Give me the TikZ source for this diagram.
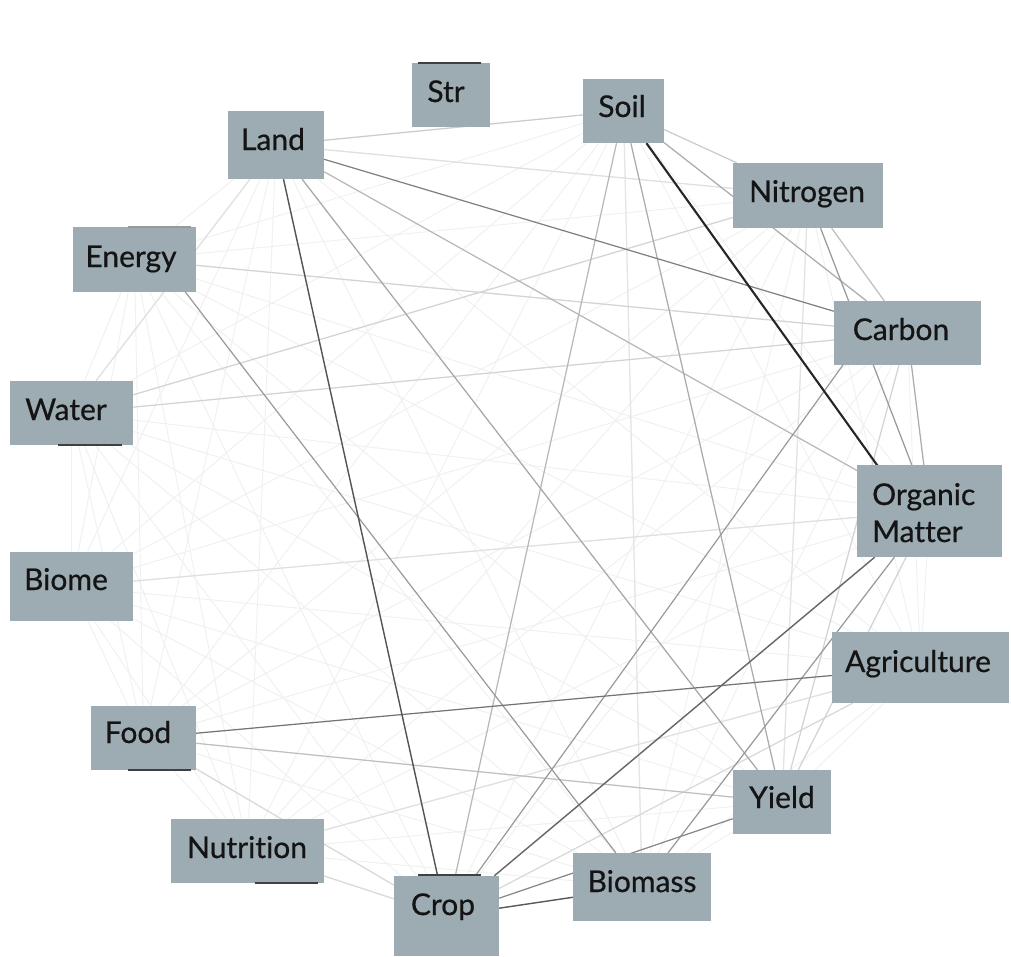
\documentclass[tikz,border=0pt]{standalone}
\usepackage{fontspec}
\setmainfont{Lato}[Ligatures=NoCommon]
\newfontfamily\lblfont{Lato}[Ligatures=NoCommon, FakeBold=0.6]
\usetikzlibrary{backgrounds}
\pgfdeclarelayer{bottom}
\pgfsetlayers{bottom,background,main}
\definecolor{boxc}{RGB}{157,172,179}
\tikzset{
  box/.style={rectangle, fill=boxc, draw=none, inner sep=0pt},
  lbl/.style={font=\lblfont\fontsize{30}{36}\selectfont, text=black!92, inner sep=0pt, anchor=base},
  ed/.style={draw=black!#1, line width=1.2pt},
  faint/.style={draw=black!6, line width=0.9pt},
  shadowbar/.style={line width=1.8pt, draw=black!75},
}
\newcommand\mkbox[5]{\node[box, minimum width={(#4-#2)*1pt}, minimum height={(#5-#3)*1pt}] (#1) at ({(#2+#4)/2},{(#3+#5)/2}) {};}
\begin{document}
\begin{tikzpicture}[x=1pt,y=-1pt]
\begin{pgfonlayer}{bottom}
\fill[white] (0,0) rectangle (1011,956);
\end{pgfonlayer}
\useasboundingbox (0,0) rectangle (1011,956);
% boxes
\mkbox{str}{412}{63}{490}{127}
\mkbox{land}{228}{111}{324}{179}
\mkbox{energy}{73}{227}{196}{292}
\mkbox{water}{10}{381}{133}{445}
\mkbox{soil}{583}{79}{664}{143}
\mkbox{nitrogen}{733}{163}{883}{228}
\mkbox{carbon}{834}{301}{981}{365}
\mkbox{om}{857}{465}{1002}{557}
\mkbox{agri}{832}{632}{1009}{703}
\mkbox{yield}{733}{770}{831}{834}
\mkbox{biomass}{573}{853}{711}{921}
\mkbox{biome}{10}{552}{133}{621}
\mkbox{food}{91}{706}{196}{770}
\mkbox{nutrition}{171}{819}{324}{883}
\mkbox{crop}{394}{876}{499}{956}
% labels
\node[lbl] (str-t) at (446,102) {Str};
\node[lbl] (land-t) at (273,150) {Land};
\node[lbl] (energy-t) at (131,267) {Energy};
\node[lbl] (water-t) at (66,420) {Water};
\node[lbl] (soil-t) at (622,117) {Soil};
\node[lbl] (nitrogen-t) at (807,202) {Nitrogen};
\node[lbl] (carbon-t) at (901,340) {Carbon};
\node[lbl, anchor=base west] (om-t1) at (872,505) {Organic};
\node[lbl, anchor=base west] (om-t2) at (872,542) {Matter};
\node[lbl] (agri-t) at (918,672) {Agriculture};
\node[lbl] (yield-t) at (782,808) {Yield};
\node[lbl] (biomass-t) at (642,892) {Biomass};
\node[lbl] (biome-t) at (66,590) {Biome};
\node[lbl] (food-t) at (138,743) {Food};
\node[lbl] (nutrition-t) at (247,858) {Nutrition};
\node[lbl] (crop-t) at (443,915) {Crop};
% dark strips along some box edges
\draw[shadowbar] (418,63) -- (481,63);
\draw[shadowbar] (418,875) -- (481,875);
\draw[shadowbar] (58,445) -- (122,445);
\draw[shadowbar] (128,770) -- (191,770);
\draw[shadowbar] (255,883) -- (318,883);
\draw[shadowbar, draw=black!40] (128,227) -- (191,227);
% anchor points where some connectors meet
\coordinate (carbon-a) at (866,333);
\coordinate (om-a) at (910,511);
\coordinate (energy-a) at (160,259);
\begin{pgfonlayer}{background}
  % faint web
  \foreach \a [count=\i] in {land,soil,nitrogen,energy,carbon,water,om,biome,agri,food,yield,nutrition,biomass,crop}{
    \foreach \b [count=\j] in {land,soil,nitrogen,energy,carbon,water,om,biome,agri,food,yield,nutrition,biomass,crop}{
      \ifnum\i<\j \draw[faint] (\a) -- (\b); \fi
    }
  }
  % light edges
  \draw[ed=11] (nitrogen) -- (yield);
  \draw[ed=10] (soil) -- (biomass);
  \draw[ed=12] (biome) -- (om);
  \draw[ed=12] (land) -- (water);
  \draw[ed=12] (land) -- (nitrogen);
  \draw[ed=12] (nutrition) -- (agri);
  \draw[ed=15] (agri) -- (crop);
  \draw[ed=15] (food) -- (crop);
  \draw[ed=15] (nutrition) -- (crop);
  \draw[ed=17] (energy) -- (carbon);
  \draw[ed=17] (water) -- (carbon);
  \draw[ed=17] (water) -- (nitrogen);
  \draw[ed=17] (carbon) -- (yield);
  \draw[ed=17] (om) -- (yield);
  \draw[ed=20] (land) -- (soil);
  \draw[ed=20] (soil) -- (nitrogen);
  % medium edges
  \draw[ed=25] (nitrogen) -- (carbon);
  \draw[ed=25] (food) -- (yield);
  \draw[ed=28] (land) -- (om);
  \draw[ed=28] (soil) -- (crop);
  \draw[ed=33] (soil) -- (yield);
  \draw[ed=33] (carbon) -- (om);
  \draw[ed=33] (soil) -- (carbon);
  \draw[ed=35] (land) -- (yield);
  \draw[ed=40] (om) -- (biomass);
  \draw[ed=40] (nitrogen) -- (om);
  \draw[ed=40] (energy-a) -- (biomass);
  \draw[ed=40] (crop) -- (carbon-a);
  \draw[ed=47] (crop) -- (yield);
  \draw[ed=50] (land) -- (carbon);
  % dark edges
  \draw[ed=55] (food) -- (agri);
  \draw[ed=60, line width=1.4pt] (crop) -- (om);
  \draw[ed=65, line width=1.4pt] (crop) -- (biomass);
  \draw[ed=67, line width=1.4pt] (land) -- (crop);
  \draw[ed=85, line width=2.1pt] (soil) -- (om-a);
\end{pgfonlayer}
\end{tikzpicture}
\end{document}
